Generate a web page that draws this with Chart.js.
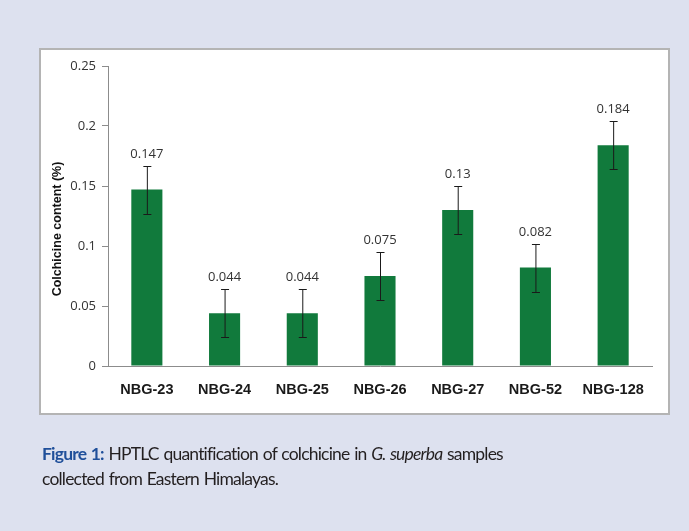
<!DOCTYPE html>
<html>
<head>
<meta charset="utf-8">
<script src="https://cdn.jsdelivr.net/npm/chart.js@4.4.1/dist/chart.umd.min.js"></script>
<style>
  html, body { margin: 0; padding: 0; }
  body { width: 689px; height: 531px; background: #dde1ef; position: relative; overflow: hidden; }
  .panel {
    position: absolute; left: 39px; top: 48px; width: 627px; height: 363px;
    background: #fff; border: 2px solid #b4b4b4;
  }
  #chart { position: absolute; left: 0; top: 0; }
  .caption {
    position: absolute; left: 42px; top: 441px; width: 640px;
    font-family: Lato, 'Open Sans', sans-serif; font-size: 17.5px; line-height: 25px;
    color: #231f20; letter-spacing: -0.8px; word-spacing: 1px;
  }
  .caption b { color: #1f4f9a; }
</style>
</head>
<body>
<div class="panel"></div>
<canvas id="chart" width="689" height="531"></canvas>
<div class="caption"><b>Figure 1:</b> HPTLC quantification of colchicine in <i>G. superba</i> samples<br>collected from Eastern Himalayas.</div>
<script>
  // Colchicine content per sample (%)
  var samples = ['NBG-23', 'NBG-24', 'NBG-25', 'NBG-26', 'NBG-27', 'NBG-52', 'NBG-128'];
  var content = [0.147, 0.044, 0.044, 0.075, 0.13, 0.082, 0.184];
  var errors = [0.02, 0.02, 0.02, 0.02, 0.02, 0.02, 0.02];
  var valueLabels = ['0.147', '0.044', '0.044', '0.075', '0.13', '0.082', '0.184'];
  var yTickLabels = ['0', '0.05', '0.1', '0.15', '0.2', '0.25'];
  var yTitle = 'Colchicine content (%)';

  var BAR_COLOR = '#117a3c';
  var AXIS_COLOR = '#8c8c8c';

  // error bars, value labels and the rotated y title
  var errorBarPlugin = {
    id: 'errorBars',
    afterDatasetsDraw: function (chart) {
      var ctx = chart.ctx;
      var yScale = chart.scales.y;
      var meta = chart.getDatasetMeta(0);
      ctx.save();
      meta.data.forEach(function (bar, i) {
        var x = bar.x;
        var yTop = Math.round(yScale.getPixelForValue(content[i] + errors[i])) + 0.5;
        var yBot = Math.round(yScale.getPixelForValue(content[i] - errors[i])) + 0.5;
        ctx.strokeStyle = '#1a1a1a';
        ctx.lineWidth = 1;
        ctx.beginPath();
        ctx.moveTo(x + 0.5, yTop);
        ctx.lineTo(x + 0.5, yBot);
        ctx.moveTo(x - 3.5, yTop);
        ctx.lineTo(x + 4.5, yTop);
        ctx.moveTo(x - 3.5, yBot);
        ctx.lineTo(x + 4.5, yBot);
        ctx.stroke();

        ctx.fillStyle = '#333';
        ctx.font = "13px 'Open Sans', sans-serif";
        ctx.textAlign = 'center';
        ctx.textBaseline = 'bottom';
        ctx.fillText(valueLabels[i], x, yTop - 6);
      });

      // y title, a bit below the axis middle like the original
      var area = chart.chartArea;
      ctx.translate(58, (area.top + area.bottom) / 2 + 13);
      ctx.rotate(-Math.PI / 2);
      ctx.fillStyle = '#111';
      ctx.font = "bold 12.5px 'Liberation Sans', Arial, sans-serif";
      ctx.textAlign = 'center';
      ctx.textBaseline = 'middle';
      ctx.fillText(yTitle, 0, 0);
      ctx.restore();
    }
  };

  new Chart(document.getElementById('chart').getContext('2d'), {
    type: 'bar',
    data: {
      labels: samples,
      datasets: [{
        data: content,
        backgroundColor: BAR_COLOR,
        borderWidth: 0,
        categoryPercentage: 1,
        barPercentage: 0.4
      }]
    },
    options: {
      responsive: false,
      animation: false,
      events: [],
      layout: { padding: { left: 47, right: 37, top: 66, bottom: 120 } },
      plugins: {
        legend: { display: false },
        tooltip: { enabled: false }
      },
      scales: {
        x: {
          grid: { display: false },
          border: { display: true, color: AXIS_COLOR, width: 1 },
          ticks: {
            color: '#1a1a1a',
            padding: 7,
            font: { family: "'Liberation Sans', Arial, sans-serif", size: 14.5, weight: 'bold' }
          },
          afterFit: function (scale) { scale.height = 45; }
        },
        y: {
          min: 0,
          max: 0.25,
          grid: { drawOnChartArea: false, drawTicks: true, tickLength: 6, color: AXIS_COLOR },
          border: { display: true, color: AXIS_COLOR, width: 1 },
          ticks: {
            stepSize: 0.05,
            padding: 6,
            color: '#333',
            font: { family: "'Open Sans', sans-serif", size: 13 },
            callback: function (value, index) { return yTickLabels[index]; }
          },
          afterFit: function (scale) { scale.width = 61; }
        }
      }
    },
    plugins: [errorBarPlugin]
  });
</script>
</body>
</html>
